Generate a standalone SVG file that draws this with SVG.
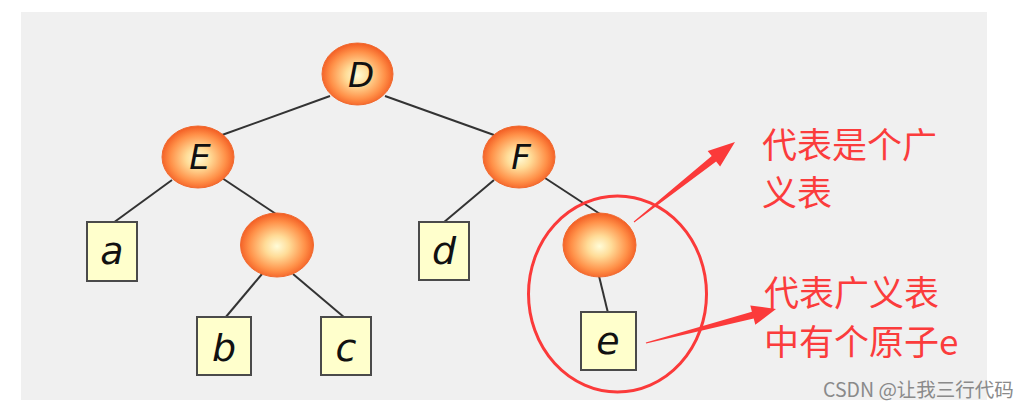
<svg xmlns="http://www.w3.org/2000/svg" width="1029" height="410" viewBox="0 0 1029 410">
<defs>
<radialGradient id="ball" cx="50%" cy="52%" r="55%">
<stop offset="0" stop-color="#fffcd8"/>
<stop offset="0.3" stop-color="#ffdc98"/>
<stop offset="0.7" stop-color="#ff9048"/>
<stop offset="1" stop-color="#f0501a"/>
</radialGradient>
<style>
.n{fill:url(#ball);stroke:#f06a30;stroke-width:1}
.b{fill:#ffffcc;stroke:#4a4a4a;stroke-width:2}
.e{stroke:#333;stroke-width:2;fill:none}
.nl{font-family:"DejaVu Sans",sans-serif;font-style:italic;font-size:34px;fill:#111;text-anchor:middle}
.bl{font-family:"DejaVu Sans",sans-serif;font-style:italic;font-size:38px;fill:#111;text-anchor:middle}
.r{font-family:"Noto Sans CJK SC",sans-serif;font-size:35px;fill:#fb3c3c}
.ra{fill:#fb3a3a}
</style>
</defs>
<rect x="0" y="0" width="1029" height="410" fill="#ffffff"/>
<rect x="21" y="12" width="966" height="388" fill="#f0f0f0"/>
<g id="connectors">
<line class="e" x1="330" y1="96" x2="222" y2="135"/>
<line class="e" x1="385" y1="96" x2="494" y2="135"/>
<line class="e" x1="172" y1="180" x2="113" y2="223"/>
<line class="e" x1="222" y1="178" x2="276" y2="214"/>
<line class="e" x1="262" y1="274" x2="225" y2="318"/>
<line class="e" x1="293" y1="274" x2="345" y2="318"/>
<line class="e" x1="494" y1="180" x2="443" y2="223"/>
<line class="e" x1="545" y1="178" x2="600" y2="214"/>
<line class="e" x1="599" y1="276" x2="608" y2="313"/>
</g>
<g id="node-D"><ellipse class="n" cx="357.5" cy="74" rx="35.5" ry="31"/><text class="nl" x="361" y="87">D</text></g>
<g id="node-E"><ellipse class="n" cx="198" cy="157" rx="36" ry="31"/><text class="nl" x="200" y="169">E</text></g>
<g id="node-F"><ellipse class="n" cx="519" cy="157" rx="36" ry="31"/><text class="nl" x="521" y="169">F</text></g>
<g id="node-L1"><ellipse class="n" cx="277" cy="245" rx="36.5" ry="32"/></g>
<g id="node-L2"><ellipse class="n" cx="599.5" cy="245" rx="36.5" ry="32"/></g>
<g id="node-a"><rect class="b" x="87" y="222" width="50" height="59"/><text class="bl" x="112" y="264">a</text></g>
<g id="node-b"><rect class="b" x="197" y="317" width="54" height="58"/><text class="bl" x="224" y="361">b</text></g>
<g id="node-c"><rect class="b" x="321" y="317" width="50" height="58"/><text class="bl" x="346" y="361">c</text></g>
<g id="node-d"><rect class="b" x="419" y="222" width="50" height="58"/><text class="bl" x="444" y="264">d</text></g>
<g id="node-e"><rect class="b" x="581" y="312" width="55" height="58"/><text class="bl" x="608" y="354">e</text></g>
<g id="annotations">
<ellipse cx="617.5" cy="294" rx="89" ry="98" fill="none" stroke="#fb3a3a" stroke-width="3"/>
<polygon class="ra" points="634.3,222.4 716.1,161.4 720.1,166.5 735,142 707.7,150.9 711.7,155.9 633.7,221.6"/>
<polygon class="ra" points="646.2,343.6 753.7,318.5 755.3,324.8 776,309 750.3,305.4 751.9,311.7 645.8,342.4"/>
<text class="r" x="762" y="158">代表是个广</text>
<text class="r" x="762" y="206">义表</text>
<text class="r" x="764" y="306">代表广义表</text>
<text class="r" x="764" y="355">中有个原子e</text>
</g>
<text x="823" y="397" font-family="'Noto Sans CJK SC',sans-serif" font-size="19.5" fill="#8a8a8a">CSDN @让我三行代码</text>
</svg>
